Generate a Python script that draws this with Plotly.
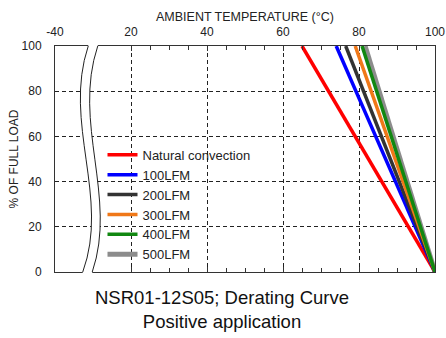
import plotly.graph_objects as go

# ---- data ----
series_names = ["Natural convection", "100LFM", "200LFM", "300LFM", "400LFM", "500LFM"]
series_colors = ["#ff0000", "#0000ff", "#333333", "#f07818", "#118811", "#8c8c8c"]
start_temp = [65.0, 74.0, 76.5, 79.0, 80.8, 81.6]   # temp at 100 % load
end_temp = [100, 100, 100, 100, 100, 100]           # temp at 0 % load
load_pts = [100, 0]
x_tickvals = [0, 20, 40, 60, 80, 100]
x_ticktext = ["-40", "20", "40", "60", "80", "100"]
y_tickvals = [0, 20, 40, 60, 80, 100]

fig = go.Figure()

# draw order: grey (500LFM) first so it sits behind
order = [5, 0, 1, 2, 3, 4]
for i in order:
    fig.add_trace(go.Scatter(
        x=[start_temp[i], end_temp[i]], y=load_pts, mode="lines",
        name=series_names[i],
        line=dict(color=series_colors[i], width=5 if i == 5 else 3.5),
        legendrank=i + 1,
    ))

font = "Liberation Sans, Arial, sans-serif"

# axis break (wavy double line), in paper coords
lc = "M 0.0875,1 C 0.02,0.66 0.145,0.33 0.073,0"
rc = "M 0.1125,1 C 0.045,0.66 0.165,0.33 0.098,0"
fill = ("M 0.0875,1 C 0.02,0.66 0.145,0.33 0.073,0 L 0.073,-0.02 L 0.098,-0.02 L 0.098,0 "
        "C 0.165,0.33 0.045,0.66 0.1125,1 L 0.1125,1.02 L 0.0875,1.02 Z")
shapes = [
    dict(type="path", path=fill, xref="paper", yref="paper", fillcolor="white",
         line=dict(width=0), layer="above"),
    dict(type="path", path=lc, xref="paper", yref="paper",
         line=dict(color="#222", width=1), layer="above"),
    dict(type="path", path=rc, xref="paper", yref="paper",
         line=dict(color="#222", width=1), layer="above"),
    # white area behind legend
    dict(type="rect", xref="paper", yref="paper", x0=0.15, x1=0.482, y0=0.044, y1=0.562,
         fillcolor="white", line=dict(width=0), layer="between"),
]

fig.update_layout(
    width=446, height=338,
    margin=dict(l=55, r=11, t=46, b=66, autoexpand=False),
    paper_bgcolor="white", plot_bgcolor="white",
    font=dict(family=font, size=12, color="#222"),
    shapes=shapes,
    showlegend=True,
    legend=dict(x=0.125, y=0.585, xanchor="left", yanchor="top",
                bgcolor="rgba(0,0,0,0)", font=dict(size=13, color="#222"),
                tracegroupgap=0, itemwidth=30),
    annotations=[
        dict(text="NSR01-12S05; Derating Curve<br>Positive application",
             xref="paper", yref="paper", x=0.44, y=-0.058, xanchor="center", yanchor="top",
             showarrow=False, font=dict(size=18.5, color="#111")),
    ],
)

fig.update_xaxes(
    side="top", range=[0, 100], tickvals=x_tickvals, ticktext=x_ticktext,
    automargin=False,
    showline=True, linecolor="#333", linewidth=1, mirror="ticks",
    ticks="inside", ticklen=5, tickcolor="#333",
    minor=dict(tickvals=[25, 30, 35, 45, 50, 55, 65, 70, 75, 85, 90, 95],
               ticks="inside", ticklen=4, tickcolor="#333", showgrid=False),
    showgrid=True, gridcolor="#222", gridwidth=1, griddash="4px,3px",
    zeroline=False, ticklabelstandoff=4,
    title=dict(text="AMBIENT TEMPERATURE (°C)", font=dict(size=12.5), standoff=0),
    tickfont=dict(size=12, color="#222"),
)
fig.update_yaxes(
    range=[0, 100], tickvals=y_tickvals, automargin=False,
    showline=True, linecolor="#333", linewidth=1, mirror=True,
    ticks="", showgrid=True, gridcolor="#222", gridwidth=1, griddash="4px,3px",
    zeroline=False, ticklabelstandoff=10,
    title=dict(text="% OF FULL LOAD", font=dict(size=12), standoff=0),
    tickfont=dict(size=12, color="#222"),
)

fig.write_html("out.html", post_script="document.body.style.margin='0';",
               config={"displayModeBar": False})
